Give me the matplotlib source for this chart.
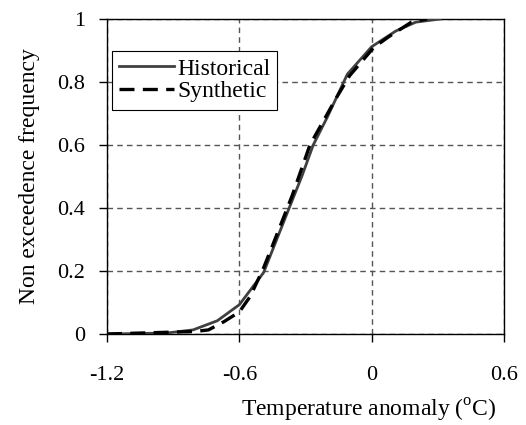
import matplotlib
matplotlib.use("Agg")
import matplotlib.pyplot as plt

hist_x = [-1.2, -0.93, -0.81, -0.70, -0.60, -0.49, -0.374, -0.317, -0.265, -0.20, -0.11, 0.0, 0.11, 0.20, 0.31]
hist_y = [0.0, 0.003, 0.013, 0.042, 0.093, 0.195, 0.40, 0.50, 0.60, 0.69, 0.825, 0.912, 0.962, 0.99, 1.0]

syn_x = [-1.2, -0.80, -0.74, -0.67, -0.60, -0.55, -0.49, -0.45, -0.36, -0.28, -0.16, -0.10, 0.01, 0.08, 0.18, 0.25]
syn_y = [0.0, 0.008, 0.013, 0.039, 0.07, 0.12, 0.21, 0.28, 0.44, 0.60, 0.75, 0.82, 0.91, 0.945, 0.99, 1.0]

xticks = [-1.2, -0.6, 0, 0.6]
xtick_labels = ["-1.2", "-0.6", "0", "0.6"]
yticks = [0, 0.2, 0.4, 0.6, 0.8, 1]
ytick_labels = ["0", "0.2", "0.4", "0.6", "0.8", "1"]

plt.rcParams['font.family'] = ['Liberation Serif', 'DejaVu Serif']
plt.rcParams['mathtext.fontset'] = 'custom'
plt.rcParams['mathtext.rm'] = 'Liberation Serif'
fs = 17
tfs = 16

fig = plt.figure(figsize=(5.26, 4.25), dpi=100)
ax = fig.add_axes([107/526, 1-334/425, (504-107)/526, (334-19)/425])

ax.plot(hist_x, hist_y, color='#404040', lw=2.0, solid_joinstyle='round', label='Historical', zorder=3)
ax.plot(syn_x, syn_y, color='black', lw=2.4, dashes=(4.5, 2.5), label='Synthetic', zorder=4)

ax.set_xlim(-1.2, 0.6)
ax.set_ylim(0, 1)
ax.set_xticks(xticks)
ax.set_xticklabels(xtick_labels)
ax.set_yticks(yticks)
ax.set_yticklabels(ytick_labels)
ax.tick_params(axis='both', direction='out', length=6, width=1, labelsize=tfs, color='black')
ax.tick_params(axis='x', pad=17)
ax.tick_params(axis='y', pad=10)
ax.grid(True, color='#555555', linestyle=(0, (4, 3)), linewidth=1.0)
for s in ax.spines.values():
    s.set_linewidth(1.0)
    s.set_color('black')

ax.set_ylabel('Non exceedence frequency', fontsize=fs, labelpad=12)
ax.set_xlabel('Temperature anomaly ($^{\\mathrm{o}}$C)', fontsize=fs)
ax.xaxis.set_label_coords(0.66, -0.20)

leg = ax.legend(loc='upper left', bbox_to_anchor=(0.013, 0.898), fontsize=fs,
                frameon=True, fancybox=False, shadow=False, handlelength=2.3,
                handletextpad=0.15, borderpad=0.3, labelspacing=0.05, borderaxespad=0.0)
leg.get_frame().set_edgecolor('black')
leg.get_frame().set_linewidth(0.8)
leg.get_frame().set_alpha(1)

fig.savefig('out.png', dpi=100)
